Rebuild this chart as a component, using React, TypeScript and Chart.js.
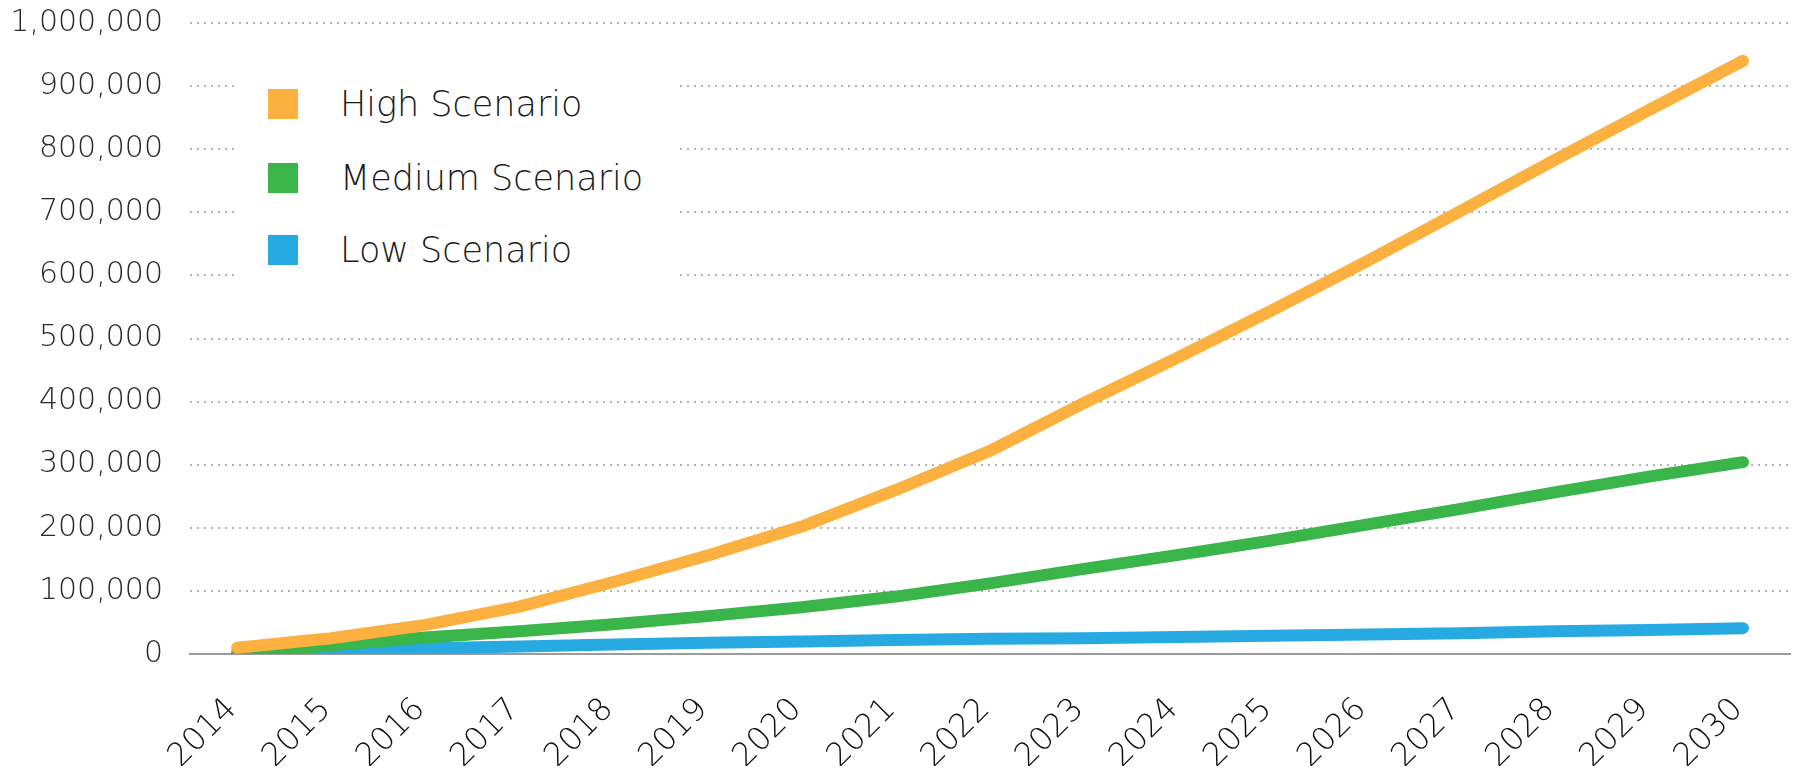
import React, { useEffect, useRef } from 'react';
import { Chart, registerables } from 'chart.js';

Chart.register(...registerables);

const years = ['2014', '2015', '2016', '2017', '2018', '2019', '2020', '2021', '2022', '2023', '2024', '2025', '2026', '2027', '2028', '2029', '2030'];
const highScenario = [10000, 25000, 46000, 75000, 114000, 156000, 202000, 260000, 322000, 398000, 470000, 545000, 622000, 702000, 783000, 862000, 940000];
const mediumScenario = [1000, 14000, 26000, 36000, 47000, 60000, 74000, 91000, 112000, 135000, 157000, 180000, 205000, 230000, 256000, 281000, 304000];
const lowScenario = [1000, 5000, 9000, 12000, 15000, 18000, 20000, 22000, 24000, 25000, 27000, 29000, 31000, 33000, 36000, 38000, 41000];
const seriesNames = ['High Scenario', 'Medium Scenario', 'Low Scenario'];
const seriesColors = ['#FBB040', '#39B54A', '#27AAE1'];
const yMin = 0;
const yMax = 1000000;
const yStep = 100000;

const FONT = "'DejaVu Sans', 'Open Sans', sans-serif";
const CLEAR = 'rgba(0,0,0,0)';

export default function App() {
  const canvasRef = useRef<HTMLCanvasElement>(null);

  useEffect(() => {
    const canvas = canvasRef.current;
    if (!canvas) return;
    const values = [highScenario, mediumScenario, lowScenario];
    const chart = new Chart(canvas, {
      type: 'line',
      data: {
        labels: years,
        datasets: seriesNames.map((name, i) => ({
          label: name,
          data: values[i],
          borderColor: seriesColors[i],
          backgroundColor: seriesColors[i],
          borderWidth: 12,
          borderCapStyle: 'round',
          borderJoinStyle: 'round',
          pointRadius: 0,
          pointHoverRadius: 0,
          tension: 0,
          fill: false,
        })),
      },
      options: {
        animation: false,
        responsive: false,
        maintainAspectRatio: false,
        layout: { padding: { top: 15, right: 4, left: 0, bottom: 0 } },
        plugins: {
          legend: { display: false },
          tooltip: { enabled: false },
        },
        scales: {
          x: {
            type: 'category',
            offset: true,
            grid: { display: true, color: CLEAR, drawTicks: true, tickLength: 37, tickColor: CLEAR },
            border: { display: true, color: '#9b9b9b', width: 2 },
            ticks: {
              autoSkip: false,
              maxRotation: 45,
              minRotation: 45,
              padding: 0,
              labelOffset: -5,
              color: '#111111',
              font: { family: FONT, size: 32, weight: '300' },
            },
            afterFit: (s: any) => {
              s.height = 112;
            },
          },
          y: {
            min: yMin,
            max: yMax,
            grid: {
              drawTicks: true,
              tickLength: 27,
              tickColor: CLEAR,
              lineWidth: 2,
              color: (ctx: any) => (ctx.tick && ctx.tick.value === 0 ? CLEAR : '#b3b3b3'),
            },
            border: { display: false, dash: [2, 5] },
            ticks: {
              stepSize: yStep,
              padding: 0,
              color: '#2a2a2a',
              font: { family: FONT, size: 30, weight: '300', lineHeight: 1 },
              callback: (v: any) => Number(v).toLocaleString('en-US'),
            },
            afterFit: (s: any) => {
              s.width = 182;
            },
          },
        },
      },
    });
    return () => chart.destroy();
  }, []);

  const legendTops = [54, 128, 200];

  return (
    <div style={{ position: 'relative', width: 1786, height: 758 }}>
      <canvas ref={canvasRef} width={1786} height={758} style={{ display: 'block', width: 1786, height: 758 }} />
      <div
        style={{
          position: 'absolute',
          left: 228,
          top: 42,
          width: 439,
          height: 250,
          background: '#ffffff',
        }}
      >
        {seriesNames.map((name, i) => (
          <div
            key={name}
            style={{
              position: 'absolute',
              left: 32,
              top: legendTops[i] - 20,
              height: 40,
              display: 'flex',
              alignItems: 'center',
              whiteSpace: 'nowrap',
            }}
          >
            <span style={{ display: 'inline-block', width: 30, height: 30, background: seriesColors[i] }} />
            <span
              style={{
                marginLeft: 42,
                fontFamily: FONT,
                fontSize: 35,
                fontWeight: 300,
                lineHeight: '40px',
                color: '#1a1a1a',
              }}
            >
              {name}
            </span>
          </div>
        ))}
      </div>
    </div>
  );
}
